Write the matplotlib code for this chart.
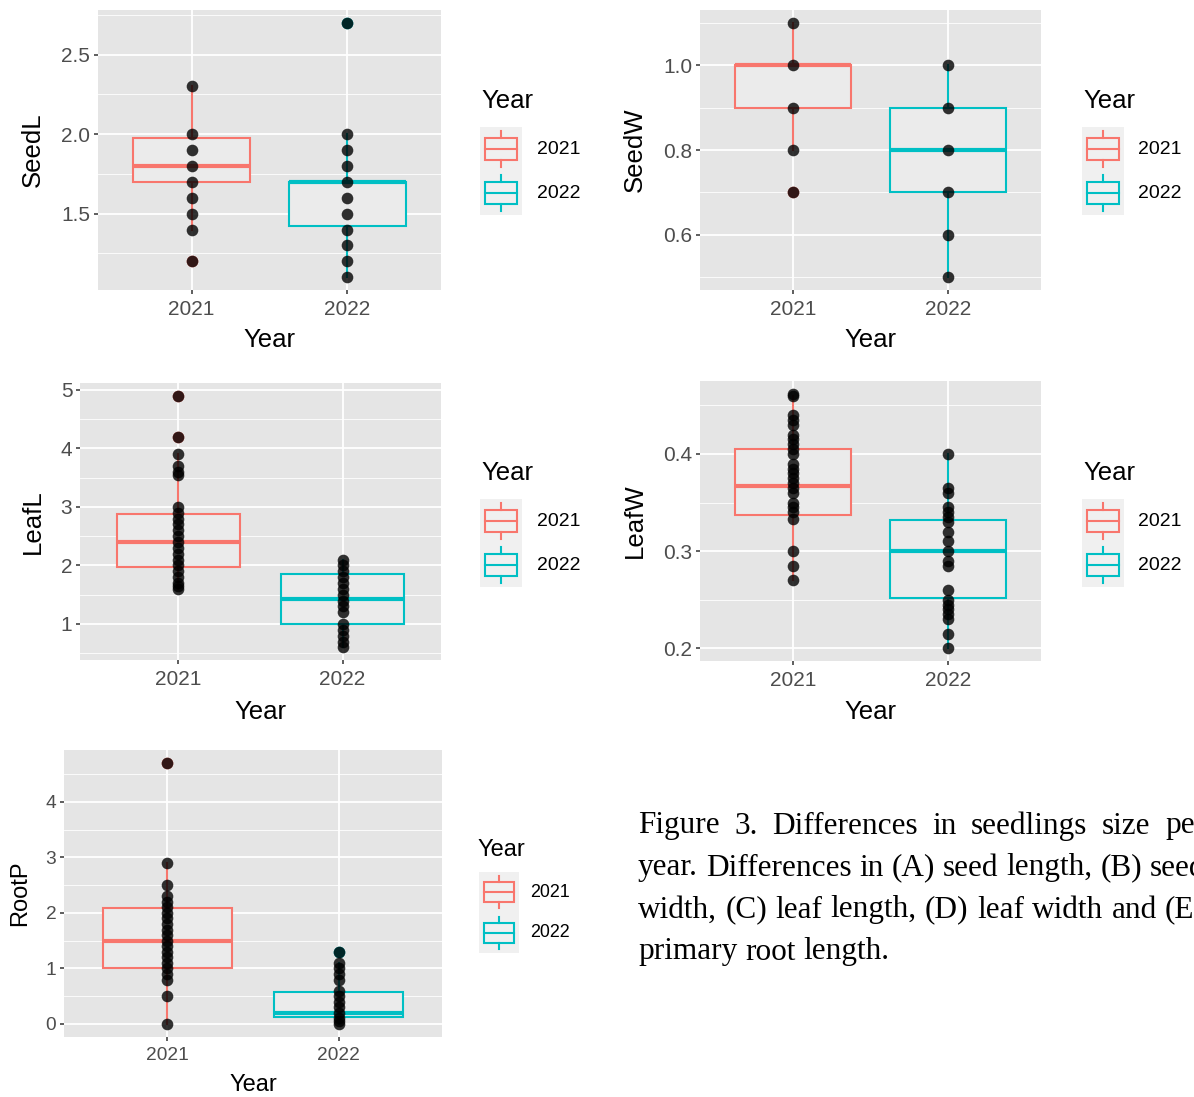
import matplotlib
matplotlib.use('Agg')
import matplotlib.pyplot as plt
from matplotlib.ticker import FixedLocator, MultipleLocator, FormatStrFormatter
from matplotlib.patches import Rectangle

# ---- data ----
years = ['2021', '2022']
colors = ['#F8766D', '#00BFC4']

# box stats: [whisker low, q1, median, q3, whisker high]
seedl_box_2021 = [1.4, 1.7, 1.8, 1.975, 2.3]
seedl_box_2022 = [1.1, 1.425, 1.7, 1.7, 2.0]
seedl_out_2021 = [1.2]
seedl_out_2022 = [2.7]
seedl_pts_2021 = [1.2, 1.4, 1.5, 1.6, 1.7, 1.8, 1.9, 2.0, 2.3]
seedl_pts_2022 = [1.1, 1.2, 1.3, 1.4, 1.5, 1.6, 1.7, 1.8, 1.9, 2.0, 2.7]

seedw_box_2021 = [0.8, 0.9, 1.0, 1.0, 1.1]
seedw_box_2022 = [0.5, 0.7, 0.8, 0.9, 1.0]
seedw_out_2021 = [0.7]
seedw_out_2022 = []
seedw_pts_2021 = [0.7, 0.8, 0.9, 1.0, 1.1]
seedw_pts_2022 = [0.5, 0.6, 0.7, 0.8, 0.9, 1.0]

leafl_box_2021 = [1.6, 1.98, 2.4, 2.87, 3.9]
leafl_box_2022 = [0.6, 1.0, 1.43, 1.85, 2.1]
leafl_out_2021 = [4.2, 4.9]
leafl_out_2022 = []
leafl_pts_2021 = [1.6, 1.65, 1.7, 1.8, 1.9, 2.0, 2.1, 2.2, 2.3, 2.4, 2.5, 2.6,
                  2.7, 2.8, 2.9, 3.0, 3.55, 3.6, 3.7, 3.9, 4.2, 4.9]
leafl_pts_2022 = [0.6, 0.7, 0.8, 0.9, 1.0, 1.2, 1.3, 1.4, 1.5, 1.6, 1.7,
                  1.8, 1.9, 2.0, 2.1]

leafw_box_2021 = [0.27, 0.337, 0.367, 0.405, 0.46]
leafw_box_2022 = [0.2, 0.252, 0.30, 0.332, 0.4]
leafw_out_2021 = []
leafw_out_2022 = []
leafw_pts_2021 = [0.27, 0.285, 0.3, 0.333, 0.34, 0.345, 0.35, 0.36, 0.365,
                  0.37, 0.375, 0.38, 0.385, 0.39, 0.4, 0.405, 0.41, 0.415,
                  0.42, 0.43, 0.435, 0.44, 0.46, 0.462]
leafw_pts_2022 = [0.2, 0.215, 0.23, 0.235, 0.24, 0.245, 0.25, 0.26, 0.285,
                  0.29, 0.3, 0.31, 0.32, 0.33, 0.335, 0.34, 0.345, 0.36,
                  0.365, 0.4]

rootp_box_2021 = [0.0, 1.0, 1.5, 2.08, 2.9]
rootp_box_2022 = [0.0, 0.12, 0.2, 0.58, 1.1]
rootp_out_2021 = [4.7]
rootp_out_2022 = [1.3]
rootp_pts_2021 = [0.0, 0.5, 0.8, 0.9, 1.0, 1.1, 1.2, 1.3, 1.4, 1.5, 1.6, 1.7,
                  1.8, 1.9, 2.0, 2.1, 2.2, 2.3, 2.5, 2.9, 4.7]
rootp_pts_2022 = [0.0, 0.05, 0.1, 0.2, 0.3, 0.4, 0.5, 0.6, 0.8, 0.9, 1.0,
                  1.1, 1.3]

caption_lines = [
    'Figure 3. Differences in seedlings size per',
    'year. Differences in (A) seed length, (B) seed',
    'width, (C) leaf length, (D) leaf width and (E)',
    'primary root length.',
]

# ---- figure setup ----
W, H = 1194, 1097
plt.rcParams['font.family'] = ['Liberation Sans', 'DejaVu Sans']
fig = plt.figure(figsize=(W / 100, H / 100), dpi=100)
fig.patch.set_facecolor('white')

PANEL_BG = '#E5E5E5'
PT_SIZE = 70


def px_axes(x0, y0, x1, y1):
    return fig.add_axes([x0 / W, 1 - y1 / H, (x1 - x0) / W, (y1 - y0) / H])


def box_stats(b, out):
    return dict(whislo=b[0], q1=b[1], med=b[2], q3=b[3], whishi=b[4], fliers=out)


def draw_panel(rect, ylabel, boxes, outs, pts, yticks, minor_step, fmt,
               ylab_x, xlab_y, leg, fs=1.0):
    x0, y0, x1, y1 = rect
    ax = px_axes(x0, y0, x1, y1)
    ax.set_facecolor(PANEL_BG)
    for s in ax.spines.values():
        s.set_visible(False)

    allpts = pts[0] + pts[1]
    lo, hi = min(allpts), max(allpts)
    pad = 0.05 * (hi - lo)
    ax.set_ylim(lo - pad, hi + pad)
    ax.set_xlim(0.4, 2.6)

    ax.yaxis.set_major_locator(FixedLocator(yticks))
    ax.yaxis.set_minor_locator(MultipleLocator(minor_step))
    ax.yaxis.set_major_formatter(FormatStrFormatter(fmt))
    ax.set_xticks([1, 2])
    ax.set_xticklabels(years)
    ax.grid(True, which='major', color='white', lw=1.3, zorder=0)
    ax.grid(True, which='minor', axis='y', color='white', lw=0.6, zorder=0)
    ax.set_axisbelow(True)
    ax.tick_params(which='major', length=3, width=1.1, color='#333333',
                   labelcolor='#4D4D4D', labelsize=15 * fs, pad=2.5)
    ax.tick_params(axis='x', pad=4.5)
    ax.tick_params(which='minor', length=0)

    for i in range(2):
        st = [box_stats(boxes[i], outs[i])]
        ax.bxp(st, positions=[i + 1], widths=0.75, patch_artist=True,
               showcaps=False,
               boxprops=dict(facecolor='#EBEBEB', edgecolor=colors[i], lw=1.5),
               whiskerprops=dict(color=colors[i], lw=1.5),
               medianprops=dict(color=colors[i], lw=3.0),
               flierprops=dict(marker='o', markerfacecolor=colors[i],
                               markeredgecolor='none',
                               markersize=PT_SIZE ** 0.5),
               manage_ticks=False, zorder=2)
        ax.scatter([i + 1] * len(pts[i]), pts[i], s=PT_SIZE, color='black',
                   alpha=0.8, lw=0, zorder=3)

    # axis titles
    fig.text(ylab_x / W, 1 - (y0 + y1) / 2 / H, ylabel, rotation=90,
             ha='center', va='center', fontsize=18.5 * fs)
    fig.text((x0 + x1) / 2 / W, 1 - xlab_y / H, 'Year', ha='center',
             va='center', fontsize=18.5 * fs)

    # legend
    tx, ty, kx0, kx1, ky0, ky1, lx = leg
    fig.text(tx / W, 1 - ty / H, 'Year', ha='left', va='center',
             fontsize=18.5 * fs)
    lax = px_axes(kx0, ky0, kx1, ky1)
    lax.set_xlim(0, 1)
    lax.set_ylim(0, 2)
    lax.axis('off')
    lax.add_patch(Rectangle((0, 0), 1, 2, facecolor='#F0F0F0', lw=0))
    for i in range(2):
        base = 1 - i  # top key first
        c = colors[i]
        lax.plot([0.5, 0.5], [base + 0.1, base + 0.25], color=c, lw=1.5)
        lax.plot([0.5, 0.5], [base + 0.75, base + 0.9], color=c, lw=1.5)
        lax.add_patch(Rectangle((0.12, base + 0.25), 0.76, 0.5,
                                facecolor='none', edgecolor=c, lw=1.5))
        lax.plot([0.12, 0.88], [base + 0.5, base + 0.5], color=c, lw=1.5)
        fig.text(lx / W, 1 - (ky0 + (ky1 - ky0) * (i + 0.5) / 2) / H,
                 years[i], ha='left', va='center', fontsize=14 * fs)
    return ax


# (A) seed length
draw_panel((98, 10, 441, 290), 'SeedL',
           [seedl_box_2021, seedl_box_2022], [seedl_out_2021, seedl_out_2022],
           [seedl_pts_2021, seedl_pts_2022], [1.5, 2.0, 2.5], 0.25, '%.1f',
           33, 340, (481, 101, 480, 522, 127, 215, 537))
# (B) seed width
draw_panel((700, 10, 1041, 290), 'SeedW',
           [seedw_box_2021, seedw_box_2022], [seedw_out_2021, seedw_out_2022],
           [seedw_pts_2021, seedw_pts_2022], [0.6, 0.8, 1.0], 0.1, '%.1f',
           635, 340, (1083, 101, 1082, 1124, 127, 215, 1138))
# (C) leaf length
draw_panel((80, 383, 441, 660), 'LeafL',
           [leafl_box_2021, leafl_box_2022], [leafl_out_2021, leafl_out_2022],
           [leafl_pts_2021, leafl_pts_2022], [1, 2, 3, 4, 5], 0.5, '%d',
           33, 712, (481, 473, 480, 522, 499, 587, 537))
# (D) leaf width
draw_panel((700, 381, 1041, 661), 'LeafW',
           [leafw_box_2021, leafw_box_2022], [leafw_out_2021, leafw_out_2022],
           [leafw_pts_2021, leafw_pts_2022], [0.2, 0.3, 0.4], 0.05, '%.1f',
           635, 712, (1083, 473, 1082, 1124, 499, 587, 1138))
# (E) primary root length
draw_panel((64, 750, 442, 1037), 'RootP',
           [rootp_box_2021, rootp_box_2022], [rootp_out_2021, rootp_out_2022],
           [rootp_pts_2021, rootp_pts_2022], [0, 1, 2, 3, 4], 0.5, '%d',
           20, 1085, (478, 850, 479, 519, 872, 953, 530), fs=0.92)

# ---- caption, justified lines ----
CAP_FS = 22.5
cap_x = 638
cap_y = [826, 868, 910, 952]
renderer = fig.canvas.get_renderer()

line_words = []
for j, line in enumerate(caption_lines):
    ypos = 1 - cap_y[j] / H
    items = []
    for w in line.split(' '):
        t = fig.text(0, ypos, w, family='Liberation Serif', fontsize=CAP_FS,
                     ha='left', va='center')
        items.append((t, t.get_window_extent(renderer).width))
    line_words.append(items)

space_w = fig.text(0, 0, 'a a', family='Liberation Serif', fontsize=CAP_FS
                   ).get_window_extent(renderer).width
space_w -= 2 * fig.text(0, 0, 'a', family='Liberation Serif', fontsize=CAP_FS
                        ).get_window_extent(renderer).width
for t in fig.texts[-2:]:
    t.remove()

natural = [sum(wd for _, wd in items) + space_w * (len(items) - 1)
           for items in line_words]
cap_right = cap_x + max(natural[:-1])

for j, items in enumerate(line_words):
    if j == len(line_words) - 1:
        gap = space_w
    else:
        gap = (cap_right - cap_x - sum(wd for _, wd in items)) / (len(items) - 1)
    x = cap_x
    for t, wd in items:
        t.set_x(x / W)
        x += wd + gap

fig.savefig('out.png', dpi=100)
